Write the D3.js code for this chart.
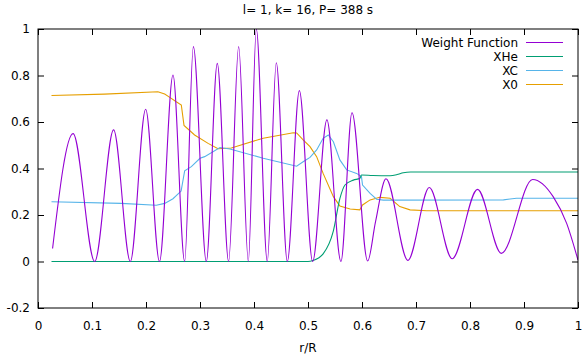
<!DOCTYPE html>
<html>
<head>
<meta charset="utf-8">
<script src="https://cdn.jsdelivr.net/npm/d3@7"></script>
<style>
  html, body { margin: 0; padding: 0; background: #fff; }
  svg { display: block; }
  text { font-family: "DejaVu Sans", sans-serif; font-size: 12px; fill: #000; }
</style>
</head>
<body>
<svg id="chart" width="582" height="355"></svg>
<script>
// ---- data ----
const titleText = "l= 1, k= 16, P= 388 s";
const xLabel = "r/R";
const xTicks = [0, 0.1, 0.2, 0.3, 0.4, 0.5, 0.6, 0.7, 0.8, 0.9, 1];
const xTickLabels = ["0", "0.1", "0.2", "0.3", "0.4", "0.5", "0.6", "0.7", "0.8", "0.9", "1"];
const yTicks = [-0.2, 0, 0.2, 0.4, 0.6, 0.8, 1];
const yTickLabels = ["-0.2", "0", "0.2", "0.4", "0.6", "0.8", "1"];
const seriesNames = ["Weight Function", "XHe", "XC", "X0"];
const seriesColors = ["#9400d3", "#009e73", "#56b4e9", "#e69f00"];

// Weight function (extrema and a few shape points)
const wfR = [0.027, 0.065, 0.105, 0.140, 0.171, 0.1994, 0.225, 0.250, 0.2716, 0.2877, 0.3117, 0.332, 0.353,
             0.3716, 0.3895, 0.4043, 0.4246, 0.4413, 0.4617, 0.484, 0.5086, 0.535, 0.561, 0.5815, 0.6105,
             0.625, 0.6444, 0.685, 0.7246, 0.767, 0.814, 0.858, 0.916, 0.954, 0.979, 1.0];
const wfV = [0.056, 0.55, 0.0, 0.566, 0.0, 0.655, 0.0, 0.802, 0.0, 0.924, 0.0, 0.852, 0.0,
             0.924, 0.0, 1.0, 0.0, 0.855, 0.0, 0.735, 0.0, 0.609, 0.0, 0.64, 0.002,
             0.17, 0.356, 0.005, 0.318, 0.012, 0.31, 0.035, 0.353, 0.279, 0.164, 0.006];

// XHe
const heR = [0.025, 0.30, 0.50, 0.509, 0.528, 0.547, 0.559, 0.5685, 0.584, 0.5963, 0.599, 0.62, 0.652, 0.665, 0.6765, 0.69, 0.726, 1.0];
const heV = [0.0, 0.0, 0.0, 0.004, 0.033, 0.132, 0.27, 0.329, 0.35, 0.358, 0.372, 0.37, 0.369, 0.374, 0.382, 0.385, 0.385, 0.385];

// XC
const cR = [0.025, 0.154, 0.219, 0.2346, 0.25, 0.259, 0.265, 0.2716, 0.284, 0.300, 0.3086, 0.337, 0.3556,
            0.417, 0.479, 0.491, 0.5037, 0.516, 0.528, 0.5376, 0.547, 0.559, 0.5716, 0.590, 0.599, 0.601,
            0.615, 0.627, 0.6395, 0.862, 0.886, 1.0];
const cV = [0.257, 0.25, 0.242, 0.25, 0.27, 0.29, 0.303, 0.39, 0.408, 0.444, 0.451, 0.49, 0.484,
            0.444, 0.41, 0.429, 0.448, 0.48, 0.53, 0.544, 0.515, 0.437, 0.394, 0.379, 0.365, 0.329,
            0.293, 0.268, 0.264, 0.265, 0.272, 0.272];

// X0
const oR = [0.025, 0.123, 0.222, 0.2346, 0.244, 0.256, 0.2654, 0.2704, 0.29, 0.315, 0.3333, 0.358, 0.37,
            0.417, 0.4728, 0.479, 0.491, 0.5037, 0.516, 0.528, 0.547, 0.559, 0.578, 0.596, 0.601,
            0.615, 0.633, 0.652, 0.670, 0.689, 0.72, 1.0];
const oV = [0.714, 0.72, 0.73, 0.72, 0.706, 0.687, 0.673, 0.585, 0.544, 0.508, 0.485, 0.488, 0.497,
            0.53, 0.554, 0.553, 0.523, 0.494, 0.451, 0.379, 0.279, 0.239, 0.226, 0.222, 0.243,
            0.265, 0.276, 0.272, 0.236, 0.222, 0.218, 0.218];

// ---- layout ----
const W = 582, H = 355;
const mLeft = 38, mRight = 578, mTop = 29, mBottom = 308;

const svg = d3.select("#chart");
const x = d3.scaleLinear().domain([0, 1]).range([mLeft, mRight]);
const y = d3.scaleLinear().domain([-0.2, 1]).range([mBottom, mTop]);

// clip
svg.append("defs").append("clipPath").attr("id", "clip")
  .append("rect").attr("x", mLeft).attr("y", mTop).attr("width", mRight - mLeft).attr("height", mBottom - mTop);

// axes (ticks inward, mirrored)
function styleAxis(g) {
  g.select(".domain").remove();
  g.selectAll(".tick line").attr("stroke", "#000").attr("stroke-width", 1);
  g.selectAll("text").style("font-family", "DejaVu Sans, sans-serif").style("font-size", "12px").attr("fill", "#000");
}
svg.append("g").attr("transform", `translate(${mLeft},0)`)
  .call(d3.axisLeft(y).tickValues(yTicks).tickSize(-6).tickPadding(8)
    .tickFormat((d, i) => yTickLabels[i]))
  .call(styleAxis);
svg.append("g").attr("transform", `translate(${mRight},0)`)
  .call(d3.axisRight(y).tickValues(yTicks).tickSize(-6).tickFormat(""))
  .call(styleAxis);
svg.append("g").attr("transform", `translate(0,${mBottom})`)
  .call(d3.axisBottom(x).tickValues(xTicks).tickSize(-6).tickPadding(13)
    .tickFormat((d, i) => xTickLabels[i]))
  .call(styleAxis);
svg.append("g").attr("transform", `translate(0,${mTop})`)
  .call(d3.axisTop(x).tickValues(xTicks).tickSize(-6).tickFormat(""))
  .call(styleAxis);

// series
const series = [
  { r: wfR, v: wfV, curve: d3.curveMonotoneX },
  { r: heR, v: heV, curve: d3.curveMonotoneX },
  { r: cR, v: cV, curve: d3.curveLinear },
  { r: oR, v: oV, curve: d3.curveLinear }
];
const plot = svg.append("g").attr("clip-path", "url(#clip)");
for (let s = series.length - 1; s >= 0; s--) {
  const S = series[s];
  const pts = S.r.map((r, i) => [r, S.v[i]]);
  const line = d3.line().x(d => x(d[0])).y(d => y(d[1])).curve(S.curve);
  plot.append("path").attr("d", line(pts)).attr("fill", "none")
    .attr("stroke", seriesColors[s]).attr("stroke-width", 1.1);
}

// frame
svg.append("rect").attr("x", mLeft).attr("y", mTop).attr("width", mRight - mLeft).attr("height", mBottom - mTop)
  .attr("fill", "none").attr("stroke", "#000").attr("stroke-width", 1);

// title and axis label
svg.append("text").attr("x", (mLeft + mRight) / 2).attr("y", 14).attr("text-anchor", "middle").text(titleText);
svg.append("text").attr("x", (mLeft + mRight) / 2).attr("y", 352).attr("text-anchor", "middle").text(xLabel);

// legend
const leg = svg.append("g");
seriesNames.forEach((name, i) => {
  const yy = 42.5 + 14 * i;
  leg.append("text").attr("x", 518).attr("y", yy + 4.3).attr("text-anchor", "end").text(name);
  leg.append("line").attr("x1", 526).attr("x2", 563).attr("y1", yy).attr("y2", yy)
    .attr("stroke", seriesColors[i]).attr("stroke-width", 1.1);
});
</script>
</body>
</html>
